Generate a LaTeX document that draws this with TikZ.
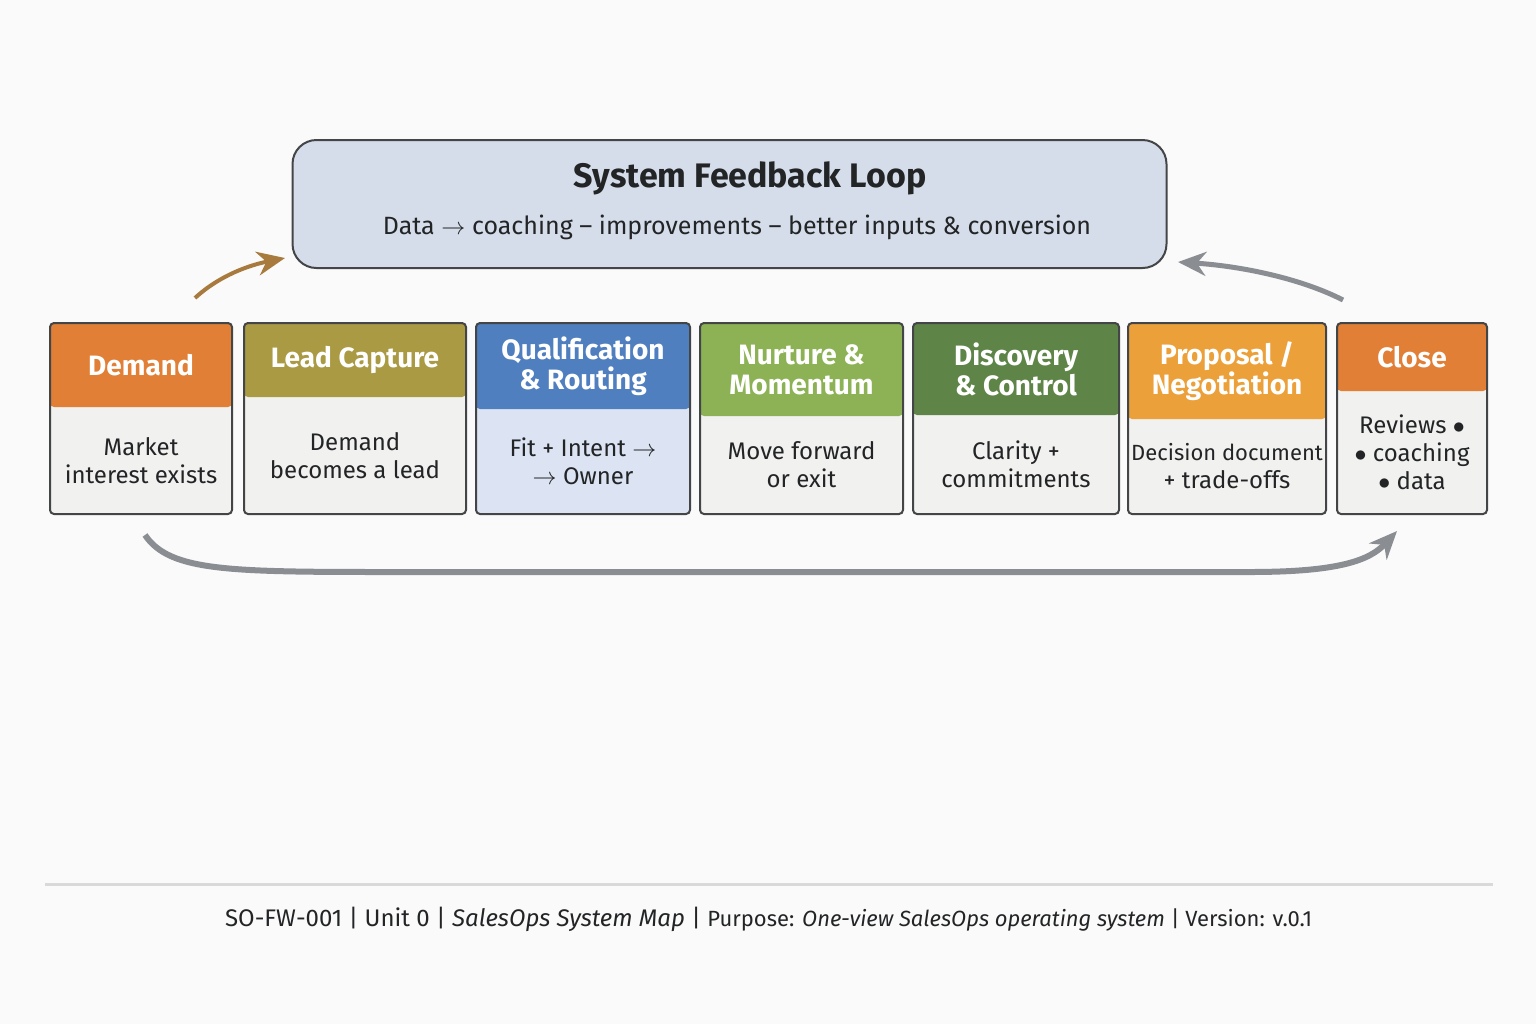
\documentclass[tikz,border=0pt]{standalone}
\usepackage{fontspec}
\setmainfont{Fira Sans}
\usetikzlibrary{arrows.meta}
\definecolor{bg}{HTML}{FAFAFA}
\definecolor{fb}{HTML}{D5DDEA}
\definecolor{body}{HTML}{F1F1EF}
\definecolor{qbody}{HTML}{DCE3F2}
\definecolor{cO}{HTML}{E07F35}
\definecolor{cL}{HTML}{A99A43}
\definecolor{cB}{HTML}{4F7FBF}
\definecolor{cN}{HTML}{8DB255}
\definecolor{cD}{HTML}{5E8448}
\definecolor{cP}{HTML}{EBA03A}
\definecolor{ink}{HTML}{222426}
\definecolor{arr}{HTML}{8A8D92}
\begin{document}
\begin{tikzpicture}[x=0.5pt,y=-0.5pt,
  hdr/.style={font=\fontsize{14}{15}\selectfont\bfseries, text=white, align=center},
  bd/.style={font=\fontsize{12}{14}\selectfont, text=ink, align=center},
  frame/.style={draw=ink!85, line width=1pt, rounded corners=2pt}]
\fill[bg] (0,0) rectangle (1536,1024);
\useasboundingbox (0,0) rectangle (1536,1024);
% feedback
\node[draw=ink!85, line width=1pt, fill=fb, rounded corners=12pt, minimum width=437pt, minimum height=64pt] (fb) at (729.5,204) {};
\node[font=\fontsize{17}{18}\selectfont\bfseries, text=ink] (fbt) at (750,178) {System Feedback Loop};
\node[font=\fontsize{12.5}{14}\selectfont, text=ink] (fbs) at (737,227) {Data $\rightarrow$ coaching -- improvements -- better inputs \& conversion};
% boxes: name, x1, x2, headerbottom, color, bodycolor, header, body
\foreach \n/\a/\b/\h/\c/\f/\t/\s in {
 s1/50/232/407/cO/body/Demand/{Market\\interest exists},
 s2/244/466/397/cL/body/Lead Capture/{Demand\\becomes a lead},
 s3/476/690/409/cB/qbody/{Qualification\\\& Routing}/{Fit + Intent $\rightarrow$\\$\rightarrow$ Owner},
 s4/700/903/416/cN/body/{Nurture \&\\Momentum}/{Move forward\\or exit},
 s5/913/1119/415/cD/body/{Discovery\\\& Control}/{Clarity +\\commitments},
 s6/1128/1326/419/cP/body/{Proposal /\\Negotiation}/{\fontsize{11}{14}\selectfont Decision document\\+ trade-offs},
 s7/1337/1487/391/cO/body/Close/{Reviews $\bullet$\\$\bullet$ coaching\\$\bullet$ data}}{
  \fill[\f, rounded corners=2pt] (\a,323) rectangle (\b,514);
  \fill[\c, rounded corners=2pt] (\a,323) rectangle (\b,\h);
  \draw[frame] (\a,323) rectangle (\b,514);
  \node[hdr] (\n h) at ({(\a+\b)/2},{(323+\h)/2}) {\t};
  \node[bd] (\n b) at ({(\a+\b)/2},{(\h+514)/2}) {\s};
}
% arrows
\coordinate (a1) at (195,298); \coordinate (a2) at (285,258);
\draw[line width=2pt, draw={rgb,255:red,168;green,122;blue,62}, -{Stealth[length=14pt,width=12pt]}] (a1) .. controls (220,275) and (250,265) .. (a2);
\coordinate (b1) at (1343,300); \coordinate (b2) at (1178,262);
\draw[line width=2.5pt, draw=arr, -{Stealth[length=14pt,width=12pt]}] (b1) .. controls (1300,278) and (1240,266) .. (b2);
\coordinate (c1) at (145,535); \coordinate (c2) at (1397,531);
\draw[line width=3pt, draw=arr, -{Stealth[length=14pt,width=12pt]}] (c1) .. controls (170,572) and (230,572) .. (400,572) -- (1250,572) .. controls (1340,572) and (1370,560) .. (c2);
% footer
\coordinate (f1) at (45,884); \coordinate (f2) at (1493,884);
\draw[line width=1.5pt, draw=black!15] (f1) -- (f2);
\node[font=\fontsize{12}{14}\selectfont, text=ink, anchor=west] (ft) at (218,919) {SO-FW-001 | Unit 0 | \textit{SalesOps System Map} | {\fontsize{11}{14}\selectfont Purpose: \textit{One-view SalesOps operating system} | Version: v.0.1}};
\end{tikzpicture}
\end{document}
